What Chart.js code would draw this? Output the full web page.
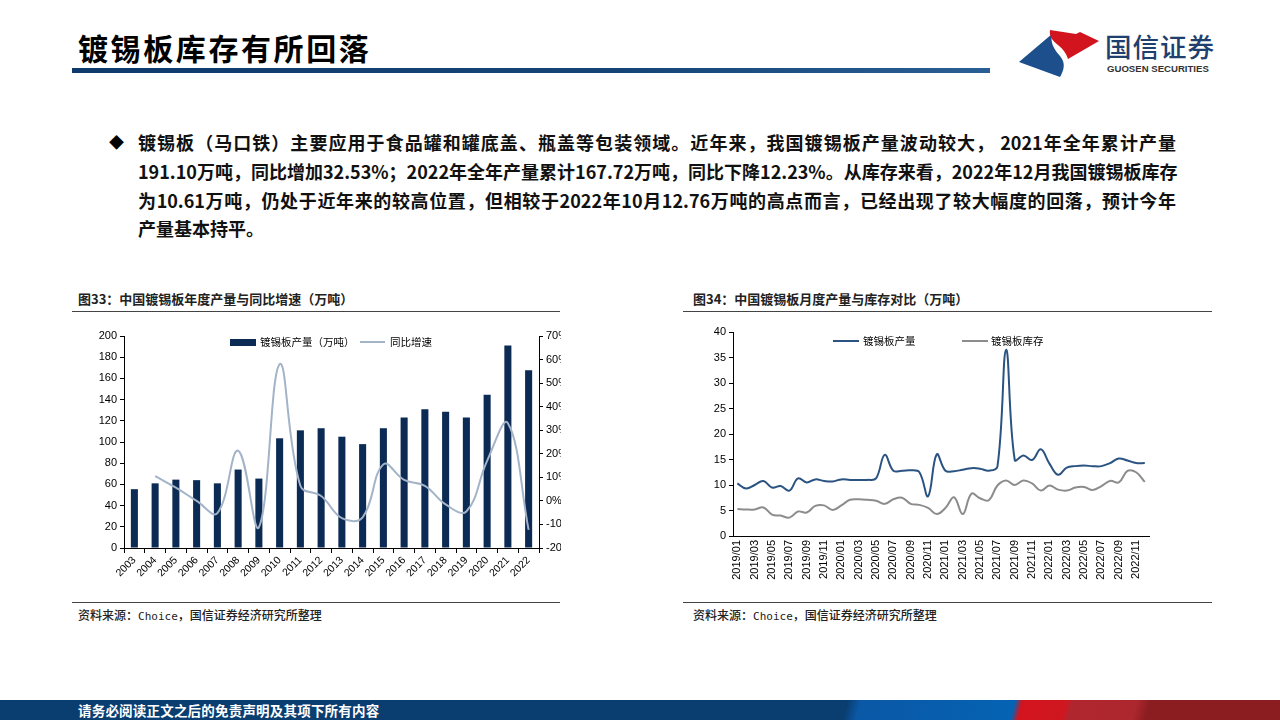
<!DOCTYPE html>
<html><head><meta charset="utf-8">
<script src="https://cdn.jsdelivr.net/npm/chart.js@4.4.0/dist/chart.umd.min.js"></script>
<style>
body{margin:0;width:1280px;height:720px;position:relative;overflow:hidden;background:#fff;font-family:"Noto Sans CJK SC","Noto Sans",sans-serif;color:#000;}
.abs{position:absolute;}
.title{left:78px;top:27px;font-size:30px;font-weight:700;letter-spacing:2.6px;line-height:40px;color:#000;}
.tbar{left:72px;top:68px;width:918px;height:5px;background:linear-gradient(to right,#0e3a6c 0%,#154577 60%,#2a5f95 100%);}
.body-line{left:138px;width:1038px;font-size:18px;font-weight:700;line-height:24px;white-space:nowrap;text-align:justify;text-align-last:justify;color:#111;}
.ctitle{font-size:13px;font-weight:700;color:#222;line-height:16px;white-space:nowrap;}
.src{font-size:12px;color:#222;line-height:14px;white-space:nowrap;font-weight:500;}
.hline{height:1px;background:#444;}
.leg{font-size:10.5px;line-height:12px;color:#000;white-space:nowrap;}
.footer{left:0;top:700px;width:1280px;height:20px;background:linear-gradient(104deg,#0a3e71 0%,#0a3e71 66%,#0a58a6 67%,#0563b3 79%,#d3141f 79.6%,#cf1720 83%,#b1262e 83.5%,#ad272e 88.5%,#8b1d21 89.5%,#8b1d21 100%);}
.ftext{left:78px;top:702px;font-size:13.5px;font-weight:700;color:#fff;line-height:16px;white-space:nowrap;letter-spacing:0.2px;}
</style></head><body>

<div class="abs title">镀锡板库存有所回落</div>
<div class="abs tbar"></div>

<svg class="abs" style="left:1010px;top:25px;" width="100" height="60" viewBox="0 0 100 60">
  <path d="M42,9 L9,37 L50,52 C54,45 56,38 50,31 C44,24 40,18 42,9 Z" fill="#1d4f8c"/>
  <path d="M40,5 L66,9 L70,7 L89,16 L58,34 C56,28 53,24 48,20 C42,15 39,11 40,5 Z" fill="#d2141f"/>
</svg>
<div class="abs" style="left:1105px;top:30px;font-size:26.5px;font-weight:500;color:#1f3f6e;letter-spacing:1px;line-height:32px;">国信证券</div>
<div class="abs" style="left:1107px;top:64px;font-size:9.6px;font-weight:700;color:#333;line-height:10px;font-family:'Liberation Sans',sans-serif;letter-spacing:0;">GUOSEN SECURITIES</div>

<div class="abs" style="left:109px;top:131px;font-size:15px;line-height:22px;">◆</div>
<div class="abs body-line" style="top:130px;">镀锡板（马口铁）主要应用于食品罐和罐底盖、瓶盖等包装领域。近年来，我国镀锡板产量波动较大， 2021年全年累计产量</div>
<div class="abs body-line" style="top:159px;">191.10万吨，同比增加32.53%；2022年全年产量累计167.72万吨，同比下降12.23%。从库存来看，2022年12月我国镀锡板库存</div>
<div class="abs body-line" style="top:188px;">为10.61万吨，仍处于近年来的较高位置，但相较于2022年10月12.76万吨的高点而言，已经出现了较大幅度的回落，预计今年</div>
<div class="abs body-line" style="top:216px;text-align:left;text-align-last:left;width:auto;">产量基本持平。</div>

<!-- left chart -->
<div class="abs ctitle" style="left:78px;top:291px;">图33：中国镀锡板年度产量与同比增速（万吨）</div>
<div class="abs hline" style="left:72px;top:311px;width:488px;"></div>
<div class="abs" style="left:80px;top:320px;width:481px;height:268px;overflow:hidden;">
  <div style="position:relative;width:500px;height:268px;"><canvas id="c1"></canvas></div>
</div>
<div class="abs" style="left:230px;top:339px;width:26px;height:7px;background:#0b2a54;"></div>
<div class="abs leg" style="left:260px;top:336px;">镀锡板产量（万吨）</div>
<div class="abs" style="left:360px;top:341px;width:25px;height:2px;background:#a3b3c8;"></div>
<div class="abs leg" style="left:390px;top:336px;">同比增速</div>
<div class="abs hline" style="left:72px;top:602px;width:488px;"></div>
<div class="abs src" style="left:78px;top:608px;">资料来源：<span style="font-family:'DejaVu Sans Mono',monospace;font-size:11px;">Choice</span>，国信证券经济研究所整理</div>

<!-- right chart -->
<div class="abs ctitle" style="left:693px;top:291px;">图34：中国镀锡板月度产量与库存对比（万吨）</div>
<div class="abs hline" style="left:683px;top:311px;width:529px;"></div>
<div class="abs" style="left:690px;top:320px;width:472px;height:264px;"><canvas id="c2"></canvas></div>
<div class="abs" style="left:833px;top:340px;width:26px;height:2px;background:#2b5381;"></div>
<div class="abs leg" style="left:863px;top:335px;">镀锡板产量</div>
<div class="abs" style="left:962px;top:340px;width:26px;height:2px;background:#8c8c8c;"></div>
<div class="abs leg" style="left:991px;top:335px;">镀锡板库存</div>
<div class="abs hline" style="left:683px;top:602px;width:529px;"></div>
<div class="abs src" style="left:693px;top:608px;">资料来源：<span style="font-family:'DejaVu Sans Mono',monospace;font-size:11px;">Choice</span>，国信证券经济研究所整理</div>

<div class="abs footer"></div>
<div class="abs ftext">请务必阅读正文之后的免责声明及其项下所有内容</div>

<script>
const years = ['2003','2004','2005','2006','2007','2008','2009','2010','2011','2012','2013','2014','2015','2016','2017','2018','2019','2020','2021','2022'];
const annualOutput = [55.5, 61, 64.5, 64, 61, 74, 65.5, 103.5, 111, 113, 105, 98, 113, 123, 131, 128.5, 123, 144.5, 191.1, 167.7];
const yoyGrowth = [null, 10.5, 5.6, 0.0, -5.2, 21.3, -11.2, 58.0, 6.4, 2.1, -7.3, -7.0, 15.5, 8.9, 6.4, -1.5, -4.5, 17.0, 33.0, -12.3];

const months = ['2019/01','2019/02','2019/03','2019/04','2019/05','2019/06','2019/07','2019/08','2019/09','2019/10','2019/11','2019/12',
 '2020/01','2020/02','2020/03','2020/04','2020/05','2020/06','2020/07','2020/08','2020/09','2020/10','2020/11','2020/12',
 '2021/01','2021/02','2021/03','2021/04','2021/05','2021/06','2021/07','2021/08','2021/09','2021/10','2021/11','2021/12',
 '2022/01','2022/02','2022/03','2022/04','2022/05','2022/06','2022/07','2022/08','2022/09','2022/10','2022/11','2022/12'];
const monthlyOutput = [10.3, 9.3, 10.0, 10.8, 9.5, 9.8, 8.9, 11.3, 10.5, 11.1, 10.8, 10.7,
 11.1, 11.0, 11.0, 11.0, 11.3, 15.9, 12.8, 12.8, 12.9, 12.5, 7.8, 16.0,
 12.8, 12.7, 13.0, 13.3, 13.2, 12.8, 13.6, 36.5, 14.9, 15.8, 14.9, 17.0,
 14.2, 12.0, 13.4, 13.7, 13.8, 13.7, 13.7, 14.3, 15.2, 14.8, 14.3, 14.3];
const monthlyInventory = [5.3, 5.2, 5.2, 5.6, 4.2, 4.0, 3.6, 4.8, 4.6, 5.9, 6.0, 5.1,
 6.0, 7.1, 7.2, 7.1, 6.9, 6.3, 7.2, 7.5, 6.3, 6.1, 5.5, 4.3,
 5.5, 7.6, 4.3, 8.3, 7.4, 7.0, 9.9, 10.9, 10.0, 10.9, 10.3, 8.9,
 9.9, 9.1, 8.9, 9.5, 9.6, 9.0, 9.8, 10.8, 10.5, 12.76, 12.5, 10.61];

const tickFont = {family:'"Liberation Sans", Arial, sans-serif', size:11};

new Chart(document.getElementById('c1'), {
  type: 'bar',
  data: {
    labels: years,
    datasets: [
      {type:'line', label:'同比增速', data: yoyGrowth, yAxisID:'y1', borderColor:'#a3b3c8', borderWidth:2, pointRadius:0, tension:0.4, order:0, fill:false},
      {type:'bar', label:'镀锡板产量（万吨）', data: annualOutput, yAxisID:'y', backgroundColor:'#0b2a54', barPercentage:0.34, categoryPercentage:1, order:1}
    ]
  },
  options: {
    responsive:true, maintainAspectRatio:false, animation:false,
    layout:{padding:{top:16,left:0,right:0,bottom:0}},
    plugins:{legend:{display:false}, tooltip:{enabled:false}},
    scales:{
      x:{offset:true, grid:{display:true, drawOnChartArea:false, offset:true, tickLength:5, color:'#000'}, border:{color:'#000'},
         ticks:{autoSkip:false, minRotation:45, maxRotation:45, color:'#000', font:{...tickFont, size:10.5}, padding:1},
         afterFit(s){ s.height = 40; }},
      y:{position:'left', min:0, max:200, ticks:{stepSize:20, color:'#000', font:tickFont, padding:3},
         grid:{drawOnChartArea:false, tickLength:4, color:'#000'}, border:{color:'#000'},
         afterFit(s){ s.width = 44; }},
      y1:{position:'right', min:-20, max:70, ticks:{stepSize:10, color:'#000', font:tickFont, padding:3, callback:v=>v+'%'},
         grid:{drawOnChartArea:false, tickLength:4, color:'#000'}, border:{color:'#000'},
         afterFit(s){ s.width = 41; }}
    }
  }
});

new Chart(document.getElementById('c2'), {
  type: 'line',
  data: {
    labels: months,
    datasets: [
      {label:'镀锡板产量', data: monthlyOutput, borderColor:'#2b5381', borderWidth:2, pointRadius:0, tension:0.4, fill:false},
      {label:'镀锡板库存', data: monthlyInventory, borderColor:'#8c8c8c', borderWidth:2, pointRadius:0, tension:0.4, fill:false}
    ]
  },
  options: {
    responsive:true, maintainAspectRatio:false, animation:false,
    layout:{padding:{top:12,left:0,right:0,bottom:0}},
    plugins:{legend:{display:false}, tooltip:{enabled:false}},
    scales:{
      x:{offset:true, grid:{display:true, drawOnChartArea:false, drawTicks:false, color:'#000'}, border:{color:'#000'},
         ticks:{autoSkip:false, minRotation:90, maxRotation:90, color:'#000', font:tickFont, padding:4,
                callback:(v,i)=> i%2===0 ? months[i] : ''},
         afterFit(s){ s.height = 48; }},
      y:{min:0, max:40, ticks:{stepSize:5, color:'#000', font:tickFont, padding:3},
         grid:{drawOnChartArea:false, tickLength:4, color:'#000'}, border:{color:'#000'},
         afterFit(s){ s.width = 43; }}
    }
  }
});
</script>
</body></html>
